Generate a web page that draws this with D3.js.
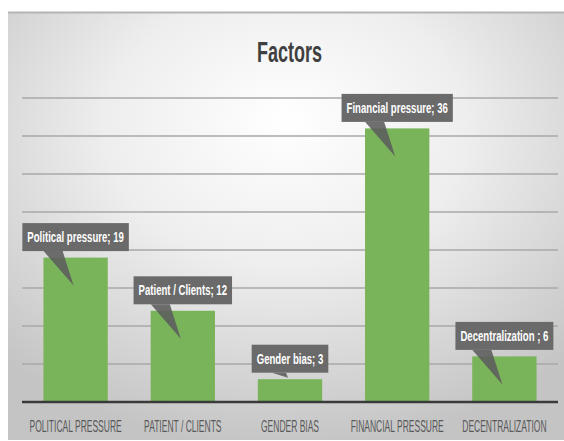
<!DOCTYPE html>
<html><head><meta charset="utf-8">
<script src="https://cdn.jsdelivr.net/npm/d3@7"></script>
<style>html,body{margin:0;padding:0;background:#fff;} svg{display:block;}</style>
</head><body>
<svg id="c" width="564" height="441"></svg>
<script>
const title = "Factors";
const categories = ["POLITICAL PRESSURE","PATIENT / CLIENTS","GENDER BIAS","FINANCIAL PRESSURE","DECENTRALIZATION"];
const labelNames = ["Political pressure","Patient / Clients","Gender bias","Financial pressure","Decentralization "];
const values = [19,12,3,36,6];
const yTicks = [0,5,10,15,20,25,30,35,40];

const svg = d3.select("#c");
const W = 564, H = 441;
const plot = {left:22, right:558, top:98, bottom:402};

const defs = svg.append("defs");
const rg = defs.append("radialGradient").attr("id","bg")
  .attr("cx","0.5").attr("cy","0.3").attr("r","0.72").attr("fx","0.5").attr("fy","0.25");
rg.append("stop").attr("offset","0").attr("stop-color","#ffffff");
rg.append("stop").attr("offset","0.45").attr("stop-color","#eeeeee");
rg.append("stop").attr("offset","1").attr("stop-color","#c4c4c4");

svg.append("rect").attr("x",8).attr("y",12).attr("width",W-8).attr("height",428).attr("fill","url(#bg)");
svg.append("line").attr("x1",8).attr("x2",W).attr("y1",12.5).attr("y2",12.5).attr("stroke","#b4b4b4").attr("stroke-width",2);

const x = d3.scaleBand().domain(categories).range([plot.left, plot.right]).paddingInner(0.4).paddingOuter(0.2);
const y = d3.scaleLinear().domain([0,40]).range([plot.bottom, plot.top]);

// gridlines
svg.append("g").selectAll("line").data(yTicks.filter(d=>d>0)).join("line")
  .attr("x1",plot.left).attr("x2",plot.right)
  .attr("y1",d=>y(d)).attr("y2",d=>y(d))
  .attr("stroke","#a8a8a8").attr("stroke-width",1.5);

// bars
svg.append("g").selectAll("rect").data(values).join("rect")
  .attr("x",(d,i)=>x(categories[i])).attr("width",x.bandwidth())
  .attr("y",d=>y(d)).attr("height",d=>y(0)-y(d))
  .attr("fill","#79b45a");

// baseline
svg.append("line").attr("x1",plot.left).attr("x2",plot.right).attr("y1",y(0)).attr("y2",y(0))
  .attr("stroke","#3a3a3a").attr("stroke-width",2.5);

function ctext(g, str, cx, cy, size, sx, opts){
  const t = g.append("text").text(str)
    .attr("text-anchor","middle")
    .attr("font-family","'Liberation Sans Narrow','Liberation Sans',Arial,sans-serif")
    .attr("font-size",size)
    .attr("transform",`translate(${cx},${cy}) scale(${sx},1)`);
  if(opts){ for(const k in opts) t.attr(k, opts[k]); }
  return t;
}

// title
ctext(svg, title, 289.5, 62, 30, 0.6, {fill:"#404040","font-weight":"bold"});

// category labels
const axisG = svg.append("g");
categories.forEach((c,i)=>{
  ctext(axisG, c, x(c)+x.bandwidth()/2, 432, 17, 0.5, {fill:"#595959"});
});

// callouts
const cg = svg.append("g");
const SX = 0.64;
values.forEach((v,i)=>{
  const cx = x(categories[i]) + x.bandwidth()/2;
  const top = y(v);
  const bb = top - 6.5, bh = 28;
  const g = cg.append("g");
  const t = ctext(g, labelNames[i] + "; " + v, 0, 0, 15, SX, {fill:"#ffffff","font-weight":"bold"});
  const tw = t.node().getComputedTextLength()*SX;
  const bw = tw + 10;
  const small = (y(0)-top) < 40;
  let pts;
  if(small){
    pts = [[cx-18,bb],[cx-4,bb],[cx-2,bb+5]];
  } else {
    pts = [[cx-32,bb],[cx-13,bb],[cx-2,top+28]];
  }
  g.insert("path","text").attr("d",d3.line()(pts)+"Z").attr("fill","#5c5c5c").attr("opacity",0.88);
  g.insert("rect","text").attr("x",cx-bw/2).attr("y",bb-bh).attr("width",bw).attr("height",bh)
    .attr("fill","#6a6a6a");
  t.attr("transform",`translate(${cx},${bb-9}) scale(${SX},1)`);
});
</script>
</body></html>
